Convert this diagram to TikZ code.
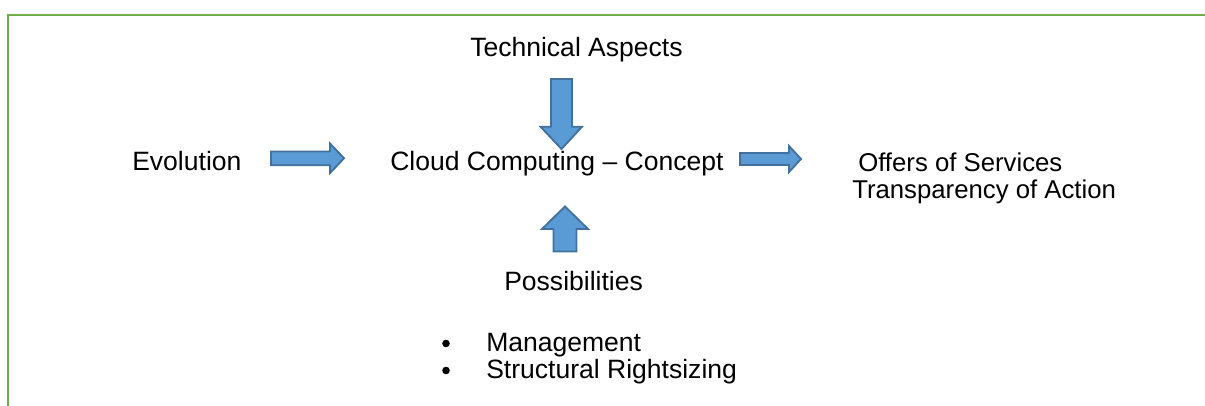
\documentclass[tikz,border=0pt]{standalone}
\usepackage{fontspec}
\setmainfont{Liberation Sans}
\definecolor{framegreen}{HTML}{70AD47}
\definecolor{arrowfill}{HTML}{5B9BD5}
\definecolor{arrowline}{HTML}{41719C}
\tikzset{
  lbl/.style={inner sep=0pt, anchor=base west, font=\fontsize{19.9pt}{24pt}\selectfont},
  lblsmall/.style={lbl, font=\fontsize{19.3pt}{23pt}\selectfont},
  blockarr/.style={fill=arrowfill, draw=arrowline, line width=1.4pt, line join=miter},
  frameline/.style={draw=framegreen, line width=2pt},
  bulletdot/.style={fill=black}
}
\begin{document}
\begin{tikzpicture}[x=0.75pt, y=-0.75pt]
\useasboundingbox (0,0) rectangle (1205,406);
% frame
\draw[frameline] (8,406) -- (8,15) -- (1205,15);
% texts
\node[lbl] (evo) at (132,171) {Evolution};
\node[lbl] (cloud) at (390,171) {Cloud Computing – Concept};
\node[lbl] (tech) at (470,57) {Technical Aspects};
\node[lblsmall] (offers) at (858,171.5) {Offers of Services};
\node[lblsmall] (transp) at (852,198.5) {Transparency of Action};
\node[lbl] (poss) at (504,290) {Possibilities};
\node[lbl] (mgmt) at (486,351) {Management};
\node[lbl] (struct) at (486,378) {Structural Rightsizing};
\fill[bulletdot] (446,343.5) circle (3.8);
\fill[bulletdot] (446,370.5) circle (3.8);
% right arrow: Evolution -> Concept
\draw[blockarr] (271,151.5) -- (330,151.5) -- (330,143.5) -- (344,158.3) -- (330,173) -- (330,165.3) -- (271,165.3) -- cycle;
% right arrow: Concept -> Offers
\draw[blockarr] (740,153) -- (789,153) -- (789,146) -- (801,159) -- (789,172) -- (789,165) -- (740,165) -- cycle;
% down arrow: Technical -> Concept
\draw[blockarr] (551,79) -- (572,79) -- (572,126.7) -- (582,126.7) -- (561.5,149) -- (540.5,126.7) -- (551,126.7) -- cycle;
% up arrow: Possibilities -> Concept
\draw[blockarr] (553.5,251.5) -- (576.5,251.5) -- (576.5,229) -- (588,229) -- (565,206.5) -- (542,229) -- (553.5,229) -- cycle;
\end{tikzpicture}
\end{document}
